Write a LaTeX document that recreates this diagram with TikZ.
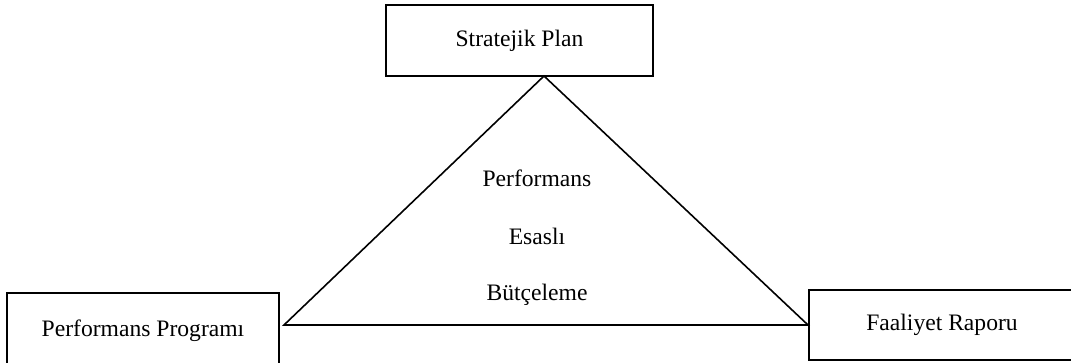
\documentclass[tikz,border=0pt]{standalone}
\usepackage{fontspec}
\setmainfont{Liberation Serif}
\usetikzlibrary{calc}

\begin{document}
\begin{tikzpicture}[x = 0.5pt, y = -0.5pt, font = \fontsize{11.8}{14}\selectfont,
	kutu/.style = {draw, line width = 1pt, inner sep = 0pt},
	kenar/.style = {line width = 0.8pt}]
				\useasboundingbox (0, 0) rectangle (1071, 363);
				\clip (0, 0) rectangle (1071, 363);
				% kutular
				\node[kutu, minimum width = 133.5pt, minimum height = 35.5pt] (plan) at (519.5, 41) {Stratejik Plan};
				\node[kutu, minimum width = 136pt, minimum height = 38pt] (program) at (143, 331) {Performans Programı};
				\node[kutu, anchor = west, minimum width = 133pt, minimum height = 35pt] (rapor) at (808, 325) {Faaliyet Raporu};
				% ucgen
				\coordinate (tepe) at (544, 76);
				\coordinate (sol) at (284, 325);
				\coordinate (sag) at (rapor.west);
				\draw[kenar] (tepe) -- (sol) -- (sag) -- cycle;
				% orta yazi
				\node (perf) at (537, 178) {Performans};
				\node (esas) at (537, 236) {Esaslı};
				\node (butce) at (537, 295) {Bütçeleme};
\end{tikzpicture}
\end{document}
